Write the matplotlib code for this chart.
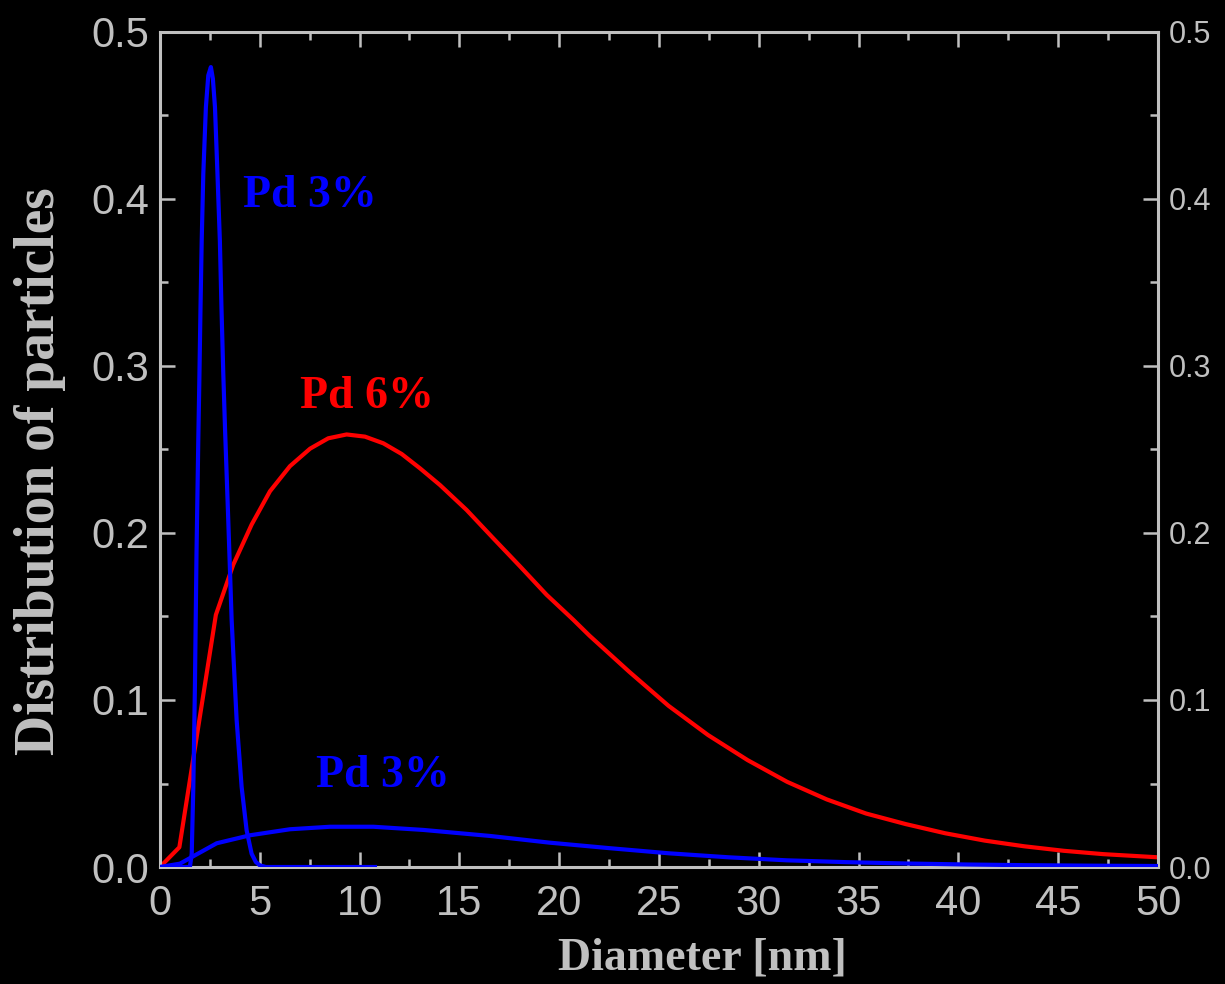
import numpy as np
import matplotlib
matplotlib.use("Agg")
import matplotlib.pyplot as plt
from matplotlib.ticker import MultipleLocator

# Pd 3% narrow distribution
d3n = [0, 1.45, 1.5, 1.59, 1.67, 1.75, 1.83, 1.92, 1.97, 2.03, 2.09, 2.17, 2.30, 2.42, 2.55,
       2.65, 2.755, 2.88, 3.0, 3.08, 3.17, 3.26, 3.42, 3.59, 3.84, 4.09, 4.34, 4.59, 4.8, 5.0, 5.3, 10.77]
p3n = [0, 0, 0.0, 0.008, 0.048, 0.108, 0.188, 0.256, 0.29, 0.335, 0.375, 0.415, 0.455, 0.474, 0.479,
       0.472, 0.455, 0.415, 0.375, 0.335, 0.296, 0.262, 0.208, 0.148, 0.088, 0.048, 0.022, 0.008, 0.003, 0.001, 0, 0]

# Pd 3% broad distribution
d3b = [0, 1.0, 2.84, 4.51, 6.51, 8.52, 10.69, 13.19, 16.53, 19.5, 22.5, 25.5, 28.5, 31.4, 34.4,
       37.4, 40.4, 43.3, 46.6, 50]
p3b = [0, 0.002, 0.0142, 0.019, 0.0226, 0.0241, 0.0241, 0.0222, 0.0186, 0.0146, 0.0113, 0.0082, 0.0058, 0.0040, 0.0029,
       0.0021, 0.0015, 0.0011, 0.0008, 0.0006]

# Pd 6% distribution
d6 = [0, 0.97, 2.8, 3.67, 4.59, 5.51, 6.51, 7.52, 8.43, 9.35, 10.27, 11.19, 12.11, 13.03, 14.03,
      15.36, 16.70, 18.04, 19.37, 20.71, 21.52, 23.5, 25.48, 27.46, 29.44, 31.42, 33.40, 35.38,
      37.36, 39.34, 41.32, 43.30, 45.28, 47.26, 50]
p6 = [0, 0.0118, 0.151, 0.181, 0.205, 0.225, 0.240, 0.2505, 0.2567, 0.259, 0.2577, 0.2537, 0.2473, 0.2387, 0.2287,
      0.2138, 0.1968, 0.180, 0.163, 0.148, 0.1385, 0.117, 0.0965, 0.079, 0.064, 0.051, 0.0405, 0.032,
      0.0257, 0.0202, 0.0158, 0.0124, 0.0097, 0.0077, 0.0058]

gray = '#c0c0c0'
serif = 'Liberation Serif'
sans = 'Liberation Sans'

fig = plt.figure(figsize=(12.25, 9.84), dpi=100, facecolor='black')
ax = fig.add_axes([0.1306, 0.1189, 0.8147, 0.8486], facecolor='black')

ax.plot(d3b, p3b, color='#0000ff', lw=3, solid_joinstyle='round', zorder=3)
ax.plot(d3n, p3n, color='#0000ff', lw=3, solid_joinstyle='round', zorder=3)
ax.plot(d6, p6, color='#ff0000', lw=3, solid_joinstyle='round', zorder=2)

ax.set_xlim(0, 50)
ax.set_ylim(0, 0.5)
ax.xaxis.set_major_locator(MultipleLocator(5))
ax.xaxis.set_minor_locator(MultipleLocator(2.5))
ax.yaxis.set_major_locator(MultipleLocator(0.1))
ax.yaxis.set_minor_locator(MultipleLocator(0.05))
ax.yaxis.set_major_formatter(plt.FormatStrFormatter('%.1f'))

for sp in ax.spines.values():
    sp.set_color(gray)
    sp.set_linewidth(2.2)

ax.tick_params(which='both', direction='in', color=gray, top=True, right=True,
               labelright=True, width=1.8)
ax.tick_params(which='major', length=11)
ax.tick_params(which='minor', length=6)
ax.tick_params(axis='x', labelsize=30, labelcolor=gray, pad=12)
ax.tick_params(axis='y', labelsize=30, labelcolor=gray, pad=8)
for lab in ax.get_xticklabels() + ax.get_yticklabels():
    lab.set_fontfamily(sans)
# right side labels smaller
for t in ax.yaxis.get_major_ticks():
    t.label2.set_fontsize(22)
    t.label2.set_fontfamily(sans)
    t.label2.set_color(gray)

# axis titles placed like the original (not centred on the axes)
fig.text(702 / 1225, 1 - 958 / 984, 'Diameter [nm]', fontsize=33, fontweight='bold',
         family=serif, color=gray, ha='center', va='center')
fig.text(40 / 1225, 1 - 471 / 984, 'Distribution of particles', fontsize=40, fontweight='bold',
         family=serif, color=gray, ha='center', va='center', rotation=90)

ax.text(4.16, 0.395, 'Pd 3%', color='#0000ff', fontsize=33, fontweight='bold', family=serif)
ax.text(7.0, 0.275, 'Pd 6%', color='#ff0000', fontsize=33, fontweight='bold', family=serif)
ax.text(7.8, 0.048, 'Pd 3%', color='#0000ff', fontsize=33, fontweight='bold', family=serif)

fig.savefig('out.png', dpi=100, facecolor='black')
